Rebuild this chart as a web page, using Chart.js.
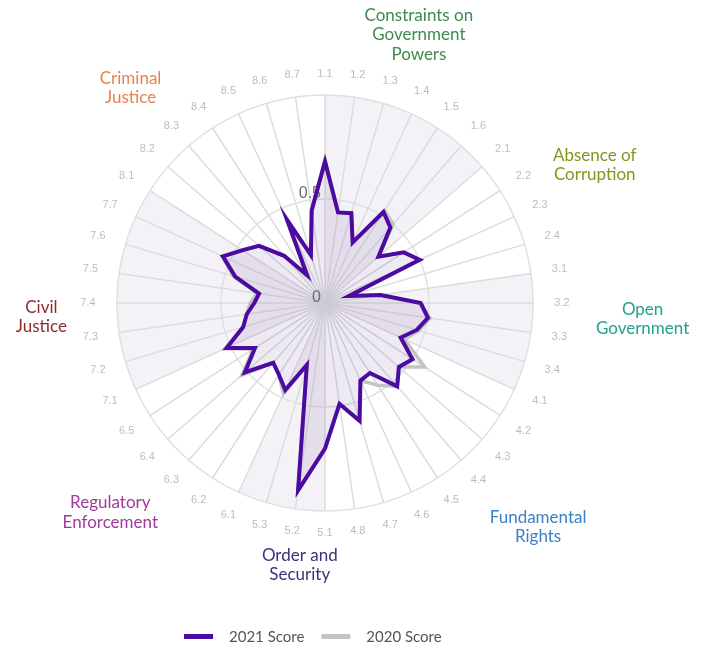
<!DOCTYPE html>
<html>
<head>
<meta charset="utf-8">
<script src="https://cdn.jsdelivr.net/npm/chart.js@4.4.1/dist/chart.umd.min.js"></script>
<style>
    html, body { margin: 0; padding: 0; background: #fff; }
</style>
</head>
<body>
<canvas id="radarChart" width="705" height="648"></canvas>
<script>
// sub-factor spokes, clockwise from the top
const subFactors = ['1.1', '1.2', '1.3', '1.4', '1.5', '1.6',
    '2.1', '2.2', '2.3', '2.4',
    '3.1', '3.2', '3.3', '3.4',
    '4.1', '4.2', '4.3', '4.4', '4.5', '4.6', '4.7', '4.8',
    '5.1', '5.2', '5.3',
    '6.1', '6.2', '6.3', '6.4', '6.5',
    '7.1', '7.2', '7.3', '7.4', '7.5', '7.6', '7.7',
    '8.1', '8.2', '8.3', '8.4', '8.5', '8.6', '8.7'];

const score2021 = [0.68, 0.44, 0.45, 0.32, 0.52, 0.48,
    0.34, 0.45, 0.50, 0.12,
    0.27, 0.46, 0.50, 0.46,
    0.40, 0.50, 0.47, 0.53, 0.40, 0.41, 0.59, 0.49,
    0.70, 0.91, 0.31,
    0.46, 0.41, 0.38, 0.51, 0.40,
    0.52, 0.41, 0.38, 0.34, 0.32, 0.45, 0.54,
    0.47, 0.42, 0.30, 0.16, 0.44, 0.24, 0.45];

const score2020 = [0.69, 0.44, 0.45, 0.32, 0.53, 0.50,
    0.34, 0.45, 0.50, 0.12,
    0.27, 0.46, 0.51, 0.47,
    0.42, 0.57, 0.47, 0.53, 0.47, 0.41, 0.59, 0.49,
    0.70, 0.91, 0.31,
    0.48, 0.41, 0.38, 0.53, 0.41,
    0.53, 0.41, 0.38, 0.36, 0.33, 0.46, 0.54,
    0.47, 0.42, 0.30, 0.14, 0.44, 0.24, 0.45];

const radialTicks = [0, 0.5];

const factorNames = [
    ['Constraints on', 'Government', 'Powers'],
    ['Absence of', 'Corruption'],
    ['Open', 'Government'],
    ['Fundamental', 'Rights'],
    ['Order and', 'Security'],
    ['Regulatory', 'Enforcement'],
    ['Civil', 'Justice'],
    ['Criminal', 'Justice']
];
const factorColors = ['#3f8a4c', '#7b9a1c', '#1fa38a', '#3d7fc6', '#3c2f7e', '#a2399c', '#8a2c2c', '#e8834c'];

// first spoke of every factor (1.x, 2.x ...)
const factorStarts = [];
subFactors.forEach((s, i) => {
    if (i === 0 || s.split('.')[0] !== subFactors[i - 1].split('.')[0]) factorStarts.push(i);
});

// where the factor names sit: angle (deg, clockwise from top) and distance from the centre
const factorLabelPos = [[19.3, 284], [62.9, 303], [92.9, 318], [136.4, 309],
    [185.5, 263], [225.7, 300], [267.2, 284], [317.9, 290]];

const radarExtras = {
    id: 'radarExtras',
    beforeDraw(chart) {
        const r = chart.scales.r;
        const c = chart.ctx;
        const n = subFactors.length;
        const step = Math.PI * 2 / n;
        c.save();
        c.fillStyle = '#f4f2f6';
        factorStarts.forEach((start, g) => {
            if (g % 2) return;
            const end = g + 1 < factorStarts.length ? factorStarts[g + 1] : n;
            const a0 = r.getIndexAngle(start) - Math.PI / 2;
            const a1 = a0 + (end - start) * step;
            c.beginPath();
            c.moveTo(r.xCenter, r.yCenter);
            c.arc(r.xCenter, r.yCenter, r.drawingArea, a0, a1);
            c.closePath();
            c.fill();
        });
        c.restore();
    },
    beforeDatasetsDraw(chart) {
        const r = chart.scales.r;
        const c = chart.ctx;
        c.save();
        // sub-factor labels, centred round the outer ring
        c.font = '11px Arial, "Liberation Sans", sans-serif';
        c.fillStyle = '#bdbdbd';
        c.textAlign = 'center';
        c.textBaseline = 'middle';
        subFactors.forEach((s, i) => {
            const a = r.getIndexAngle(i);
            const p = r.getPointPosition(i, r.drawingArea + 21.5 + 7.5 * Math.abs(Math.sin(a)));
            c.fillText(s, p.x, p.y);
        });
        // radial ticks
        c.font = '16px Arial, "Liberation Sans", sans-serif';
        c.fillStyle = '#6e6e6e';
        c.textAlign = 'right';
        c.textBaseline = 'alphabetic';
        radialTicks.forEach(v => {
            const d = r.getDistanceFromCenterForValue(v);
            c.fillText(String(v), r.xCenter - 4, r.yCenter - d - 1.5);
        });
        c.restore();
    },
    afterDraw(chart) {
        const r = chart.scales.r;
        const c = chart.ctx;
        c.save();

        // factor names
        c.font = '17px Lato, sans-serif';
        c.textAlign = 'center';
        c.textBaseline = 'middle';
        const lh = 19.5;
        factorNames.forEach((lines, g) => {
            const a = factorLabelPos[g][0] * Math.PI / 180;
            const x = r.xCenter + Math.sin(a) * factorLabelPos[g][1];
            const y = r.yCenter - Math.cos(a) * factorLabelPos[g][1];
            c.fillStyle = factorColors[g];
            lines.forEach((t, k) => {
                c.fillText(t, x, y + (k - (lines.length - 1) / 2) * lh);
            });
        });

        // legend
        c.font = '15px Lato, sans-serif';
        c.textAlign = 'left';
        c.textBaseline = 'middle';
        let x = 184;
        const y = 636.5;
        chart.data.datasets.forEach(ds => {
            c.fillStyle = ds.borderColor;
            c.fillRect(x, y - 2.5, 29, 5);
            x += 29 + 16;
            c.fillStyle = '#555';
            c.fillText(ds.label, x, y + 1);
            x += c.measureText(ds.label).width + 17;
        });
        c.restore();
    }
};

const ctx = document.getElementById('radarChart').getContext('2d');
const radarChart = new Chart(ctx, {
    type: 'radar',
    data: {
        labels: subFactors,
        datasets: [{
            label: '2021 Score',
            data: score2021,
            borderColor: '#4b0aa0',
            backgroundColor: 'rgba(90, 40, 170, 0.08)',
            borderWidth: 4,
            pointRadius: 0,
            fill: 'origin'
        }, {
            label: '2020 Score',
            data: score2020,
            borderColor: '#c4c4c4',
            backgroundColor: 'rgba(150, 150, 150, 0.04)',
            borderWidth: 3.5,
            pointRadius: 0,
            fill: 'origin'
        }]
    },
    options: {
        responsive: false,
        animation: false,
        layout: {
            padding: { left: 40, right: 95, top: 95, bottom: 137 }
        },
        plugins: {
            legend: { display: false },
            tooltip: { enabled: false }
        },
        scales: {
            r: {
                min: 0,
                max: 1,
                ticks: { display: false, stepSize: 0.5 },
                grid: { circular: true, color: '#e0e0e0', lineWidth: 1.5 },
                angleLines: { color: '#dcdcdc', lineWidth: 1.5 },
                pointLabels: { display: false }
            }
        }
    },
    plugins: [radarExtras]
});
</script>
</body>
</html>
